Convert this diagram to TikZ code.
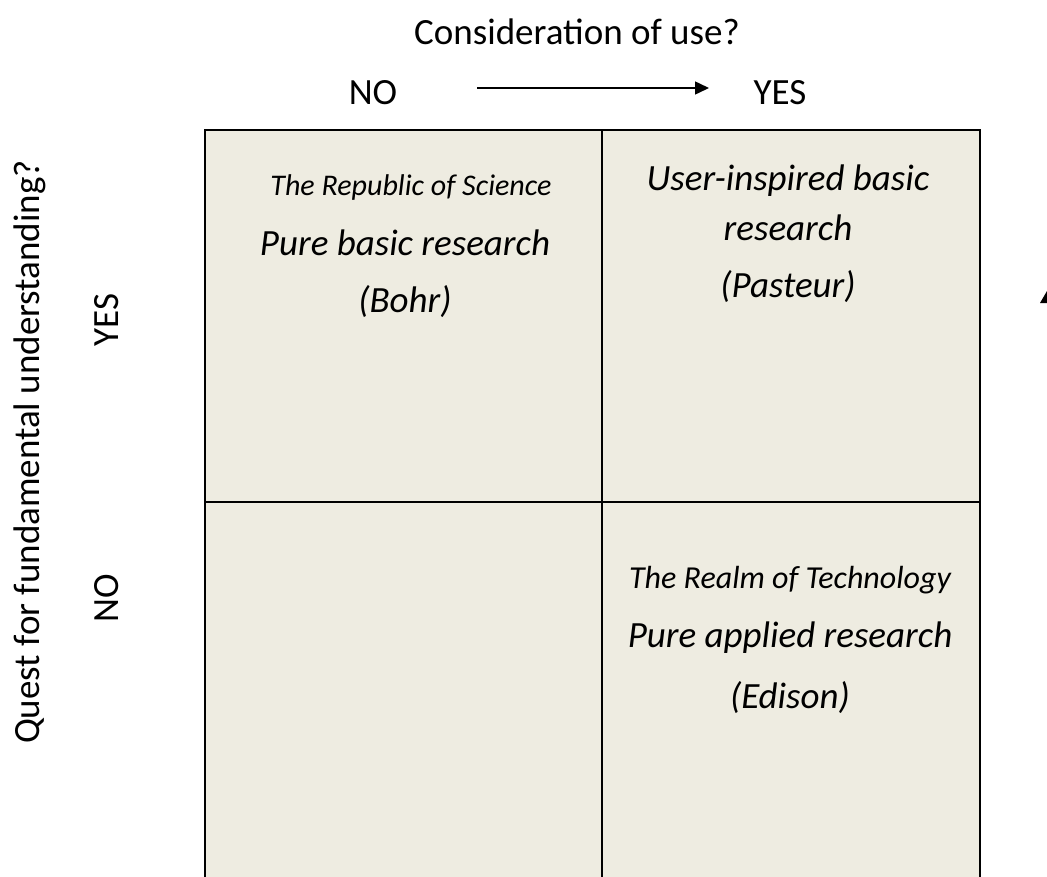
\documentclass[tikz,border=0pt]{standalone}
\usepackage{fontspec}
\setmainfont{Carlito}
\usetikzlibrary{arrows.meta}
\definecolor{cellbg}{HTML}{EEECE1}
\begin{document}
\begin{tikzpicture}[x=1pt,y=-1pt,
  lbl/.style={inner sep=0pt,font=\fontsize{37}{44}\selectfont},
  big/.style={inner sep=0pt,anchor=base,font=\fontsize{37}{44}\selectfont\itshape},
  small/.style={inner sep=0pt,anchor=base,font=\fontsize{32}{38}\selectfont\itshape},
  smaller/.style={inner sep=0pt,anchor=base,font=\fontsize{30}{36}\selectfont\itshape},
  cell/.style={draw=black,line width=2pt,fill=cellbg,minimum width=397pt,minimum height=372pt,inner sep=0pt,anchor=north west},
  axisarrow/.style={line width=1.5pt,-{Triangle[length=14pt,width=13pt]}}]
\useasboundingbox (0,0) rectangle (1047,876);
% cells
\node[cell] (tl) at (204,129) {};
\node[cell,minimum width=378pt] (tr) at (601,129) {};
\node[cell,minimum height=400pt] (bl) at (204,501) {};
\node[cell,minimum width=378pt,minimum height=400pt] (br) at (601,501) {};
% top axis
\node[lbl,anchor=base] (title) at (577,44) {Consideration of use?};
\node[lbl] (no) at (373,93) {NO};
\node[lbl] (yes) at (780,93) {YES};
\coordinate (a1) at (477,88);
\coordinate (a2) at (709,88);
\draw[axisarrow] (a1) -- (a2);
% left axis
\node[lbl,rotate=90] (quest) at (30,452) {Quest for fundamental understanding?};
\node[lbl,rotate=90] (yesl) at (107,320) {YES};
\node[lbl,rotate=90] (nol) at (107,598) {NO};
% cell texts
\node[smaller] (tl1) at (411,195) {The Republic of Science};
\node[big] (tl2) at (405,255) {Pure basic research};
\node[big] (tl3) at (405,312) {(Bohr)};
\node[big] (tr1) at (788,190) {User-inspired basic};
\node[big] (tr2) at (788,240) {research};
\node[big] (tr3) at (788,297) {(Pasteur)};
\node[small] (br1) at (790,588) {The Realm of Technology};
\node[big] (br2) at (790,647) {Pure applied research};
\node[big] (br3) at (790,708) {(Edison)};
% partial arrowhead at right edge
\fill (1047,291) -- (1054,303) -- (1040,303) -- cycle;
\end{tikzpicture}
\end{document}
